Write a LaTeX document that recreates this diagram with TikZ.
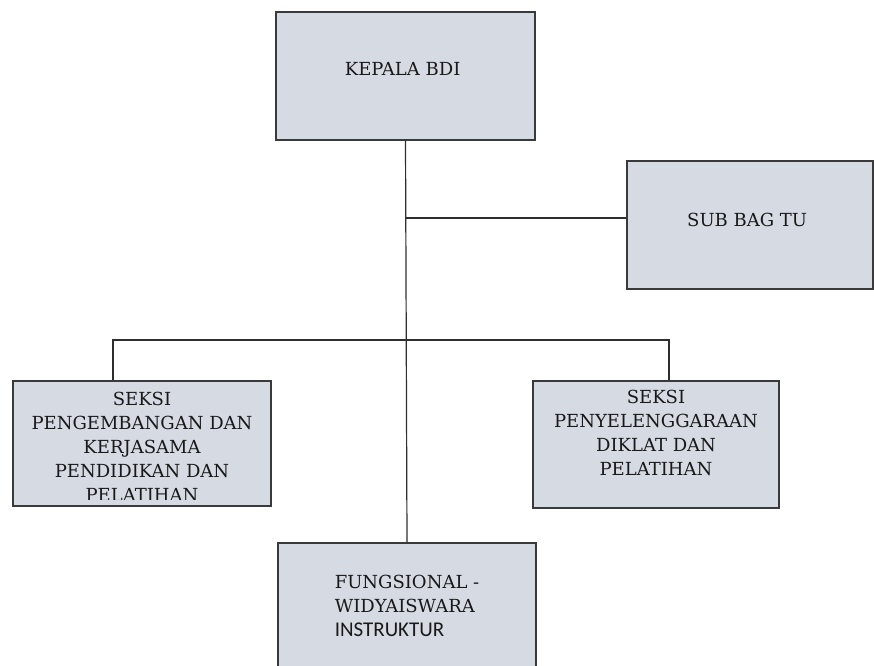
\documentclass[tikz,border=0pt]{standalone}
\usepackage{fontspec}
\setmainfont{DejaVu Serif}
\newfontfamily\instrfont{Carlito}
\usetikzlibrary{shadows}

\definecolor{unitfill}{HTML}{D5DAE3}
\definecolor{unitline}{HTML}{3A3A3A}
\definecolor{linkline}{HTML}{2E2E2E}

\begin{document}
\begin{tikzpicture}[x=1pt,y=-1pt,
    font=\fontsize{18}{24}\selectfont,
    unit/.style={draw=unitline, fill=unitfill, line width=1.3pt,
        text=black!90, align=center, inner sep=0pt,
        drop shadow={shadow xshift=-1.3pt, shadow yshift=-1.3pt,
            fill=black!60, opacity=0.5}},
    link/.style={draw=linkline, line width=1.2pt}]

\useasboundingbox (0,0) rectangle (874,665);

\node[unit,
    minimum width=259,
    minimum height=128,
    text depth=15pt
] (kepala) at (405.5,76) { KEPALA BDI };

\node[unit,
    minimum width=246,
    minimum height=128,
    text depth=11pt
] (subbag) at (750,225) { SUB BAG TU };

\node[unit,
    minimum width=258,
    minimum height=125,
    path picture={
        \clip (path picture bounding box.north west) rectangle
            ([yshift=7pt]path picture bounding box.south east);
        \node[align=center, anchor=north, inner sep=0pt, text=black!90]
            (seksiPKtext) at ([yshift=-3pt]path picture bounding box.north)
            {SEKSI\\PENGEMBANGAN DAN\\KERJASAMA\\PENDIDIKAN DAN\\PELATIHAN};
    }
] (seksiPK) at (142,443.5) {};

\node[unit,
    minimum width=246,
    minimum height=127,
    text depth=23pt
] (seksiPD) at (656,444.5) { SEKSI\\PENYELENGGARAAN\\DIKLAT DAN\\PELATIHAN };

\node[unit,
    minimum width=258,
    minimum height=126,
    align=left
] (fungsional) at (407,606) { FUNGSIONAL -\\WIDYAISWARA\\{\instrfont\fontsize{21}{24}\selectfont INSTRUKTUR} };

% garis komando
\coordinate (tuJoint) at (405,218);
\coordinate (barL) at (113,340);
\coordinate (barR) at (669,340);

\draw[link] (kepala.south) -- (fungsional.north);
\draw[link] (tuJoint) -- (tuJoint -| subbag.west);
\draw[link] (seksiPK.north -| barL) -- (barL) -- (barR) -- (barR |- seksiPD.north);

\end{tikzpicture}
\end{document}
